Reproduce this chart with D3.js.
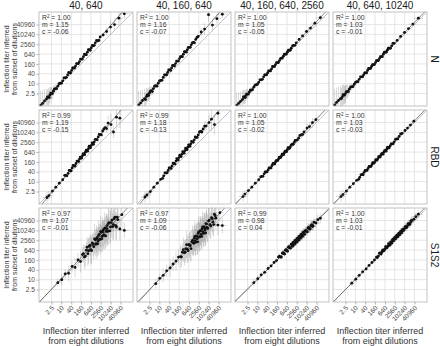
<!DOCTYPE html>
<html lang="en">
<head>
<meta charset="UTF-8">
<title>Inflection titers</title>
<script src="https://cdn.jsdelivr.net/npm/d3@7"></script>
<style>
    body{margin:0;background:#fff;}
    svg{display:block;font-family:"Liberation Sans",Arial,sans-serif;}
    .tick line{stroke:#b3b3b3;}
    .tick text{fill:#4d4d4d;font-size:6.6px;}
</style>
</head>
<body>
<svg width="440" height="346"></svg>
<script>
    // facet labels
    var subsets = ['40, 640', '40, 160, 640', '40, 160, 640, 2560', '40, 640, 10240'];
    var antigens = ['N', 'RBD', 'S1S2'];
    var tickValues = [2.5, 10, 40, 160, 640, 2560, 10240, 40960];

    // fit statistics, rows = antigen, cols = subset
    var r2 = [[1.00, 1.00, 1.00, 1.00], [0.99, 0.99, 1.00, 1.00], [0.97, 0.97, 0.99, 1.00]];
    var slope = [[1.15, 1.16, 1.05, 1.03], [1.19, 1.18, 1.05, 1.03], [1.07, 1.09, 0.98, 1.03]];
    var icept = [[-0.06, -0.07, -0.05, -0.01], [-0.15, -0.13, -0.02, -0.03], [-0.01, -0.06, 0.04, -0.01]];

    // N : titer from eight dilutions (x), from the subset (y1..y4), errors as log2 half widths
    var nX = [0.54,0.71,0.93,1.23,1.62,2.0,2.46,3.25,4.29,6.06,8.57,12.1,17.1,24.3,32,42.2,55.7,73.5,97,128,169,223,294,388,512,676,891,1176,1663,2353,3566,5793,10086,17560,32768,70240];
    var nXErr = [0.6,0.5,0.5,0.4,0.4,0.3,0.3,0.2,0.2,0.2,0.2,0.2,0.2,0.2,0.1,0.1,0.1,0.1,0.1,0.1,0.1,0.1,0.1,0.1,0.1,0.1,0.1,0.1,0.2,0.2,0.3,0.4,0.5,0.6,0.8,1.0];
    var nY1 = [0.47,0.62,0.87,1.15,1.52,2.0,2.46,3.48,4.92,6.96,10.6,14.9,22.6,34.3,45.3,64,90.5,119,169,223,315,446,588,832,1176,1552,2048,3104,4096,7132,9410,15287,28526,40342,99334,185364];
    var nY2 = [0.5,0.66,0.93,1.23,1.62,2.14,2.64,3.73,4.92,7.46,10.6,16,24.3,34.3,48.5,68.6,90.5,128,169,239,338,446,630,891,1176,1663,2353,3327,5042,7643,14263,21619,161371,37641,92682,172951];
    var nY3 = [0.47,0.62,0.81,1.07,1.52,1.87,2.3,3.03,4,6.06,8.57,12.1,17.1,26,34.3,45.3,59.7,78.8,111,147,194,256,362,478,630,832,1097,1448,2195,3104,5042,8192,15287,24834,49667,106483];
    var nY4 = [0.5,0.71,0.93,1.23,1.62,2.0,2.46,3.25,4.59,6.5,9.19,13,18.4,26,34.3,45.3,64,84.4,111,147,194,256,338,446,630,832,1097,1448,2048,2896,4389,7643,13308,23170,43237,99334];
    var nYErr1 = [3.0,2.6,2.4,2.0,1.8,1.6,1.3,1.0,0.8,0.6,0.4,0.3,0.2,0.2,0.1,0.1,0.1,0.1,0.1,0.1,0.1,0.1,0.1,0.1,0.1,0.1,0.1,0.1,0.3,0.4,0.5,0.8,1.4,1.2,1.6,1.0];
    var nYErr2 = [2.8,2.6,2.2,2.0,1.7,1.4,1.2,0.9,0.7,0.5,0.4,0.3,0.2,0.2,0.1,0.1,0.1,0.1,0.1,0.1,0.1,0.1,0.1,0.1,0.1,0.1,0.1,0.1,0.3,0.4,0.8,1.2,1.5,1.3,1.0,0.8];
    var nYErr3 = [2.5,2.2,2.0,1.8,1.5,1.2,1.0,0.8,0.6,0.4,0.3,0.2,0.1,0.1,0.1,0.1,0.1,0.1,0.1,0.1,0.1,0.1,0.1,0.1,0.1,0.1,0.1,0.1,0.1,0.1,0.1,0.2,0.3,0.4,0.5,0.6];
    var nYErr4 = [3.2,3.0,2.8,2.6,2.4,2.0,1.8,1.4,1.0,0.7,0.4,0.3,0.2,0.2,0.1,0.1,0.1,0.1,0.1,0.1,0.1,0.1,0.1,0.1,0.1,0.1,0.1,0.1,0.1,0.1,0.1,0.2,0.2,0.3,0.3,0.4];
    // N : more samples in the dense band
    var nXb = [1.41,1.80,2.22,2.83,3.73,5.1,7.2,10.2,14.4,20.4,27.9,36.8,48.5,64,84.4,111,147,194,256,338,446,588,776,1024,1399,1978];
    var nXErrb = [0.3,0.3,0.3,0.2,0.2,0.2,0.2,0.2,0.1,0.1,0.1,0.1,0.1,0.1,0.1,0.1,0.1,0.1,0.1,0.1,0.1,0.1,0.1,0.1,0.1,0.1];
    var nY1b = [1.52,1.41,2.64,2.46,4.59,4.92,9.85,10.6,22.6,24.3,48.5,45.3,90.5,90.5,169,169,315,315,630,588,1176,1097,2195,2195,4389,4389];
    var nY2b = [1.07,2.0,1.87,3.48,3.25,6.96,6.96,14.9,16,34.3,34.3,68.6,64,128,119,239,239,446,446,891,832,1663,1663,3104,3104,6654];
    var nY3b = [1.52,1.41,2.30,2.30,4.0,4.29,8,9.19,17.1,18.4,34.3,34.3,59.7,59.7,111,111,194,194,338,362,630,630,1097,1097,2048,2195];
    var nY4b = [1.23,2.14,2.0,3.25,3.25,6.06,6.5,12.1,13,26,26,45.3,45.3,84.4,84.4,147,147,256,256,446,446,832,832,1448,1448,2896];
    var nYErr1b = [1.6,1.4,1.2,1.0,0.8,0.6,0.4,0.3,0.1,0.1,0.1,0.1,0.1,0.1,0.1,0.1,0.1,0.1,0.1,0.1,0.1,0.1,0.1,0.1,0.2,0.3];
    var nYErr2b = [1.5,1.3,1.1,0.9,0.7,0.5,0.4,0.3,0.1,0.1,0.1,0.1,0.1,0.1,0.1,0.1,0.1,0.1,0.1,0.1,0.1,0.1,0.1,0.1,0.2,0.3];
    var nYErr3b = [1.4,1.2,1.0,0.8,0.6,0.4,0.3,0.2,0.1,0.1,0.1,0.1,0.1,0.1,0.1,0.1,0.1,0.1,0.1,0.1,0.1,0.1,0.1,0.1,0.1,0.1];
    var nYErr4b = [2.2,2.0,1.8,1.4,1.0,0.6,0.4,0.3,0.1,0.1,0.1,0.1,0.1,0.1,0.1,0.1,0.1,0.1,0.1,0.1,0.1,0.1,0.1,0.1,0.1,0.1];

    // RBD
    var rbdX = [1.32,1.74,2.83,4.59,7.46,12.1,18.4,26,34.3,45.3,59.7,78.8,104,128,158,194,239,294,362,446,549,676,832,1024,1351,1783,2353,3327,4705,7132,10809,15287,23170,37641];
    var rbdXErr = [0.9,0.8,0.5,0.4,0.3,0.2,0.2,0.1,0.1,0.1,0.1,0.1,0.1,0.1,0.1,0.1,0.1,0.1,0.1,0.1,0.1,0.1,0.1,0.1,0.1,0.1,0.1,0.1,0.2,0.3,0.3,0.4,0.5,0.6];
    var rbdY1 = [1.07,1.41,2.64,4.59,8,13,24.3,32,48.5,68.6,90.5,128,181,239,274,388,478,630,776,1024,1261,1663,2195,2702,3822,5405,7643,12417,20171,37641,30574,10809,86475,75281];
    var rbdY2 = [1.15,1.52,2.46,4.59,8,13.9,22.6,34.3,48.5,68.6,90.5,128,181,223,294,362,478,588,776,955,1261,1552,2048,2702,3566,5042,7132,11585,16384,24834,40342,65536,30574,150562];
    var rbdY3 = [1.23,1.74,2.83,4.59,8,13,21.1,29.9,39.4,52,68.6,97,128,158,194,239,294,362,478,588,724,891,1097,1351,1911,2521,3327,4705,7132,10809,18820,23170,40342,61147];
    var rbdY4 = [1.23,1.62,2.64,4.59,7.46,12.1,18.4,27.9,36.8,48.5,64,84.4,111,137,169,208,256,338,416,512,630,776,955,1176,1552,2048,2702,4096,5793,8780,13308,18820,28526,49667];
    var rbdYErr1 = [1.2,1.0,0.6,0.5,0.4,0.3,0.2,0.2,0.1,0.1,0.1,0.1,0.1,0.1,0.1,0.1,0.1,0.1,0.1,0.1,0.1,0.1,0.1,0.1,0.2,0.2,0.3,0.4,0.6,1.6,2.2,1.2,2.6,2.0];
    var rbdYErr2 = [1.1,0.9,0.6,0.4,0.3,0.2,0.2,0.1,0.1,0.1,0.1,0.1,0.1,0.1,0.1,0.1,0.1,0.1,0.1,0.1,0.1,0.1,0.1,0.1,0.2,0.2,0.3,0.4,0.6,1.0,1.6,2.4,2.0,1.5];
    var rbdYErr3 = [1.0,0.8,0.5,0.4,0.3,0.2,0.2,0.1,0.1,0.1,0.1,0.1,0.1,0.1,0.1,0.1,0.1,0.1,0.1,0.1,0.1,0.1,0.1,0.1,0.1,0.1,0.1,0.1,0.3,0.5,0.9,0.7,1.0,0.6];
    var rbdYErr4 = [1.2,1.0,0.6,0.5,0.4,0.3,0.2,0.1,0.1,0.1,0.1,0.1,0.1,0.1,0.1,0.1,0.1,0.1,0.1,0.1,0.1,0.1,0.1,0.1,0.1,0.1,0.1,0.1,0.1,0.2,0.2,0.3,0.3,0.4];
    var rbdXb = [16,21.9,29.9,39.4,52,68.6,90.5,115,142,175,215,265,326,402,495,609,750,923,1176,1552,2048,2797,3956,5793];
    var rbdXErrb = [0.2,0.2,0.1,0.1,0.1,0.1,0.1,0.1,0.1,0.1,0.1,0.1,0.1,0.1,0.1,0.1,0.1,0.1,0.1,0.1,0.1,0.1,0.2,0.2];
    var rbdY1b = [24.3,22.6,48.5,45.3,97,90.5,181,169,315,274,512,446,832,724,1448,1176,2353,1911,3822,3566,7643,7132,16384,17560];
    var rbdY2b = [16,34.3,34.3,68.6,64,137,119,256,208,416,338,676,549,1097,891,1783,1448,2896,2521,5405,5042,10809,10809,24834];
    var rbdY3b = [19.7,21.1,39.4,39.4,68.6,68.6,128,119,194,194,315,294,478,446,724,676,1176,1097,1783,1911,3327,3566,6654,7643];
    var rbdY4b = [13.9,26,26,48.5,48.5,84.4,84.4,147,137,223,208,338,315,512,478,776,724,1261,1176,2048,2048,3822,4096,8192];
    var rbdYErr1b = [0.3,0.2,0.1,0.1,0.1,0.1,0.1,0.1,0.1,0.1,0.1,0.1,0.1,0.1,0.1,0.1,0.1,0.1,0.1,0.1,0.2,0.3,0.5,0.8];
    var rbdYErr2b = [0.3,0.2,0.1,0.1,0.1,0.1,0.1,0.1,0.1,0.1,0.1,0.1,0.1,0.1,0.1,0.1,0.1,0.1,0.1,0.1,0.2,0.3,0.5,0.9];
    var rbdYErr3b = [0.2,0.2,0.1,0.1,0.1,0.1,0.1,0.1,0.1,0.1,0.1,0.1,0.1,0.1,0.1,0.1,0.1,0.1,0.1,0.1,0.1,0.1,0.2,0.3];
    var rbdYErr4b = [0.2,0.2,0.1,0.1,0.1,0.1,0.1,0.1,0.1,0.1,0.1,0.1,0.1,0.1,0.1,0.1,0.1,0.1,0.1,0.1,0.1,0.1,0.2,0.2];

    // S1S2
    var s12X = [6.06,10.6,17.1,27.9,45.3,68.6,104,147,194,256,338,416,512,630,776,955,1176,1351,1552,1783,2048,2353,2702,3104,3566,4096,4705,5405,6208,7132,8192,10086,12417,15287,18820,23170,28526,37641,49667,70240];
    var s12XErr = [0.6,0.5,0.4,0.4,0.3,0.3,0.3,0.3,0.3,0.3,0.3,0.3,0.3,0.3,0.3,0.3,0.3,0.3,0.3,0.3,0.4,0.4,0.4,0.4,0.4,0.4,0.4,0.5,0.5,0.5,0.5,0.5,0.6,0.6,0.6,0.7,0.7,0.8,0.8,0.9];
    var s12Y1 = [6.5,9.85,22.6,24.3,64,55.7,158,128,338,239,630,388,1097,676,1783,1024,2702,1552,3822,2353,5793,2896,7643,4389,10809,5405,14263,8780,20171,9410,30574,16384,43237,23170,65536,16384,46341,12417,92682,10086];
    var s12Y2 = [5.66,12.1,18.4,34.3,52,90.5,137,239,256,478,446,776,724,1351,1176,2048,1783,3327,2353,4705,3104,6654,4096,9410,5793,12417,8192,17560,10809,26616,15287,37641,23170,61147,32768,99334,57052,21619,122295,20171];
    var s12Y3 = [6.5,11.3,19.7,27.9,48.5,68.6,111,147,239,239,416,388,630,588,955,891,1448,1261,1911,1663,2521,2048,3327,2702,4389,3566,5793,4705,7643,6208,9410,8780,14263,12417,20171,17560,32768,28526,46341,57052];
    var s12Y4 = [6.06,10.6,18.4,29.9,45.3,73.5,111,158,239,274,416,478,630,724,955,1097,1448,1552,1911,2195,2702,2896,3566,3822,4705,5042,6208,6654,8192,9410,10809,13308,16384,20171,24834,30574,40342,49667,70240,99334];
    var s12YErr1 = [0.8,1.2,1.0,1.6,1.2,2.0,1.4,2.2,1.5,2.4,1.6,2.5,1.8,2.8,1.8,2.6,2.0,3.0,2.0,2.8,2.2,3.0,1.8,3.2,2.0,3.0,2.2,3.2,2.4,3.0,2.6,3.2,2.4,3.0,2.6,2.8,2.4,2.2,2.6,1.6];
    var s12YErr2 = [1.0,0.8,1.4,1.2,1.8,1.4,2.0,1.6,2.4,1.8,2.6,2.0,2.8,2.2,3.0,2.4,2.8,2.6,3.0,2.4,3.2,2.6,3.0,2.8,3.2,2.6,3.0,2.8,3.2,2.6,3.0,2.8,2.6,2.4,2.6,2.2,2.4,2.0,1.8,1.6];
    var s12YErr3 = [0.8,0.6,0.6,0.5,0.5,0.5,0.4,0.4,0.5,0.4,0.5,0.4,0.5,0.5,0.6,0.5,0.6,0.5,0.6,0.6,0.7,0.6,0.7,0.6,0.7,0.7,0.8,0.7,0.8,0.7,0.8,0.8,0.9,0.8,0.9,0.8,0.9,0.9,1.0,1.0];
    var s12YErr4 = [0.6,0.6,0.5,0.5,0.4,0.4,0.4,0.4,0.5,0.4,0.5,0.4,0.5,0.4,0.5,0.5,0.5,0.5,0.6,0.5,0.6,0.5,0.6,0.6,0.6,0.6,0.6,0.6,0.7,0.6,0.7,0.6,0.7,0.7,0.7,0.7,0.8,0.7,0.8,0.8];
    var s12Xb = [223,294,375,461,568,699,861,1060,1261,1448,1663,1911,2195,2521,2896,3327,3822,4389,5042,5793,6654,7643,9090,11190,13780,16960,20870,25710];
    var s12XErrb = [0.3,0.3,0.3,0.3,0.3,0.3,0.3,0.3,0.3,0.3,0.3,0.3,0.4,0.4,0.4,0.4,0.4,0.4,0.4,0.4,0.4,0.4,0.5,0.5,0.5,0.5,0.5,0.5];
    var s12Y1b = [388,274,955,588,1261,588,1448,3104,1448,3104,1552,5042,2896,8780,3104,8192,5042,13308,4705,13308,8780,26616,9410,30574,17560,53232,20171,65536];
    var s12Y2b = [239,676,478,1351,588,1351,776,2521,1663,4389,1911,4389,2048,8192,4096,9410,4389,16384,6654,14263,7132,24834,13308,43237,18820,53232,23170,80684];
    var s12Y3b = [274,239,446,362,676,549,1024,832,1448,1097,1911,1448,2521,1911,3327,2521,4389,3327,5793,4389,7643,5793,10086,8192,15287,12417,23170,18820];
    var s12Y4b = [223,416,362,630,588,1024,891,1552,1261,2048,1663,2896,2353,3822,3104,5042,4096,6654,5405,8780,7132,11585,10086,17560,15287,26616,23170,40342];
    var s12YErr1b = [1.8,2.2,2.0,2.6,2.2,2.8,2.4,3.0,2.4,2.8,2.6,3.0,2.4,3.2,2.6,3.0,2.8,3.2,2.6,3.0,2.8,3.2,2.6,3.0,2.8,2.6,2.8,2.4];
    var s12YErr2b = [2.0,2.4,2.2,2.8,2.4,2.6,2.6,3.0,2.4,3.0,2.6,2.8,2.6,3.2,2.8,3.0,2.6,3.2,2.8,3.0,2.6,3.0,2.8,3.0,2.6,2.8,2.4,2.2];
    var s12YErr3b = [0.5,0.4,0.5,0.5,0.6,0.5,0.6,0.5,0.6,0.6,0.7,0.6,0.7,0.6,0.7,0.7,0.8,0.7,0.8,0.7,0.8,0.8,0.9,0.8,0.9,0.8,0.9,0.9];
    var s12YErr4b = [0.4,0.5,0.4,0.5,0.4,0.5,0.5,0.5,0.5,0.6,0.5,0.6,0.5,0.6,0.6,0.6,0.6,0.6,0.6,0.7,0.6,0.7,0.6,0.7,0.7,0.7,0.7,0.8];

    var rows = [
        {x: nX.concat(nXb), xErr: nXErr.concat(nXErrb),
         y: [nY1.concat(nY1b), nY2.concat(nY2b), nY3.concat(nY3b), nY4.concat(nY4b)],
         yErr: [nYErr1.concat(nYErr1b), nYErr2.concat(nYErr2b), nYErr3.concat(nYErr3b), nYErr4.concat(nYErr4b)]},
        {x: rbdX.concat(rbdXb), xErr: rbdXErr.concat(rbdXErrb),
         y: [rbdY1.concat(rbdY1b), rbdY2.concat(rbdY2b), rbdY3.concat(rbdY3b), rbdY4.concat(rbdY4b)],
         yErr: [rbdYErr1.concat(rbdYErr1b), rbdYErr2.concat(rbdYErr2b), rbdYErr3.concat(rbdYErr3b), rbdYErr4.concat(rbdYErr4b)]},
        {x: s12X.concat(s12Xb), xErr: s12XErr.concat(s12XErrb),
         y: [s12Y1.concat(s12Y1b), s12Y2.concat(s12Y2b), s12Y3.concat(s12Y3b), s12Y4.concat(s12Y4b)],
         yErr: [s12YErr1.concat(s12YErr1b), s12YErr2.concat(s12YErr2b), s12YErr3.concat(s12YErr3b), s12YErr4.concat(s12YErr4b)]}
    ];

    /******** layout ********/
    var svg = d3.select('svg'),
        padLeft = 39, padTop = 12, size = 94, step = 98;

    var x = d3.scaleLog().base(2).domain([0.43, 238000]).range([0, size]);
    var y = d3.scaleLog().base(2).domain([0.43, 238000]).range([size, 0]);
    var fmt = d3.format('');

    svg.append('clipPath').attr('id', 'clip')
        .append('rect').attr('width', size).attr('height', size);

    rows.forEach(function(row, r){
        subsets.forEach(function(s, c){
            var g = svg.append('g')
                .attr('transform', 'translate(' + (padLeft + c * step) + ',' + (padTop + r * step) + ')');

            // grid
            g.append('g').selectAll('line').data(tickValues).enter().append('line')
                .attr('x1', function(d){ return x(d); }).attr('x2', function(d){ return x(d); })
                .attr('y1', 0).attr('y2', size)
                .attr('stroke', '#e0e0e0').attr('stroke-width', 0.8);
            g.append('g').selectAll('line').data(tickValues).enter().append('line')
                .attr('y1', function(d){ return y(d); }).attr('y2', function(d){ return y(d); })
                .attr('x1', 0).attr('x2', size)
                .attr('stroke', '#e0e0e0').attr('stroke-width', 0.8);

            var pts = row.x.map(function(xv, i){
                return {x: xv, y: row.y[c][i], ex: row.xErr[i], ey: row.yErr[c][i]};
            });

            var plot = g.append('g').attr('clip-path', 'url(#clip)');

            // error bars
            plot.append('g').selectAll('line').data(pts).enter().append('line')
                .attr('x1', function(d){ return x(d.x); }).attr('x2', function(d){ return x(d.x); })
                .attr('y1', function(d){ return y(d.y / Math.pow(2, d.ey)); })
                .attr('y2', function(d){ return y(d.y * Math.pow(2, d.ey)); })
                .attr('stroke', 'rgba(0,0,0,0.25)').attr('stroke-width', 0.6);
            plot.append('g').selectAll('line').data(pts).enter().append('line')
                .attr('y1', function(d){ return y(d.y); }).attr('y2', function(d){ return y(d.y); })
                .attr('x1', function(d){ return x(d.x / Math.pow(2, d.ex)); })
                .attr('x2', function(d){ return x(d.x * Math.pow(2, d.ex)); })
                .attr('stroke', 'rgba(0,0,0,0.25)').attr('stroke-width', 0.6);

            // identity and fitted line
            var dom = x.domain();
            plot.append('line')
                .attr('x1', x(dom[0])).attr('y1', y(dom[0]))
                .attr('x2', x(dom[1])).attr('y2', y(dom[1]))
                .attr('stroke', '#aaaaaa').attr('stroke-width', 0.7);
            var fit = function(v){ return Math.pow(10, icept[r][c]) * Math.pow(v, slope[r][c]); };
            plot.append('line')
                .attr('x1', x(dom[0])).attr('y1', y(fit(dom[0])))
                .attr('x2', x(dom[1])).attr('y2', y(fit(dom[1])))
                .attr('stroke', '#333').attr('stroke-width', 0.6);

            // points
            plot.append('g').selectAll('circle').data(pts).enter().append('circle')
                .attr('cx', function(d){ return x(d.x); })
                .attr('cy', function(d){ return y(d.y); })
                .attr('r', 1.4)
                .attr('fill', '#111');

            // border
            g.append('rect').attr('width', size).attr('height', size)
                .attr('fill', 'none').attr('stroke', '#b3b3b3').attr('stroke-width', 0.8);

            // stats
            var t = g.append('g').attr('font-size', '6.8px').attr('fill', '#333');
            var l1 = t.append('text').attr('x', 3).attr('y', 8);
            l1.append('tspan').text('R');
            l1.append('tspan').attr('dy', -2.5).attr('font-size', '4.6px').text('2');
            l1.append('tspan').attr('dy', 2.5).text(' = ' + r2[r][c].toFixed(2));
            t.append('text').attr('x', 3).attr('y', 14.8).text('m = ' + slope[r][c].toFixed(2));
            t.append('text').attr('x', 3).attr('y', 21.6).text('c = ' + icept[r][c].toFixed(2));

            // y axis on first column
            if(c === 0){
                var ya = g.append('g')
                    .call(d3.axisLeft(y).tickValues(tickValues).tickFormat(fmt).tickSize(2.5).tickPadding(1.5));
                ya.select('.domain').remove();
            }
            // x axis on last row
            if(r === rows.length - 1){
                var xa = g.append('g')
                    .attr('transform', 'translate(0,' + size + ')')
                    .call(d3.axisBottom(x).tickValues(tickValues).tickFormat(fmt).tickSize(2.5));
                xa.select('.domain').remove();
                xa.selectAll('text')
                    .attr('text-anchor', 'end')
                    .attr('dy', 0)
                    .attr('y', 0)
                    .attr('transform', 'translate(2.5,6.5) rotate(-45)');
            }
        });
    });

    // column strips
    svg.append('g').selectAll('text').data(subsets).enter().append('text')
        .attr('x', function(d, i){ return padLeft + i * step + size / 2; })
        .attr('y', 9)
        .attr('text-anchor', 'middle')
        .attr('font-size', '10px')
        .attr('fill', '#1a1a1a')
        .text(function(d){ return d; });

    // row strips
    svg.append('g').selectAll('text').data(antigens).enter().append('text')
        .attr('transform', function(d, i){ return 'translate(431,' + (padTop + i * step + size / 2) + ') rotate(90)'; })
        .attr('text-anchor', 'middle')
        .attr('font-size', '10px')
        .attr('fill', '#1a1a1a')
        .text(function(d){ return d; });

    // y titles
    antigens.forEach(function(a, i){
        var yt = svg.append('text')
            .attr('transform', 'translate(0,' + (padTop + i * step + size / 2) + ') rotate(-90)')
            .attr('text-anchor', 'middle')
            .attr('font-size', '7px')
            .attr('fill', '#333');
        yt.append('tspan').attr('x', 0).attr('y', 9).text('Inflection titer inferred');
        yt.append('tspan').attr('x', 0).attr('y', 16.5).text('from subset of dilutions');
    });

    // x titles
    subsets.forEach(function(s, i){
        var xt = svg.append('text')
            .attr('text-anchor', 'middle')
            .attr('font-size', '9px')
            .attr('fill', '#333');
        xt.append('tspan').attr('x', padLeft + i * step + size / 2).attr('y', 334).text('Inflection titer inferred');
        xt.append('tspan').attr('x', padLeft + i * step + size / 2).attr('y', 343.5).text('from eight dilutions');
    });
</script>
</body>
</html>
